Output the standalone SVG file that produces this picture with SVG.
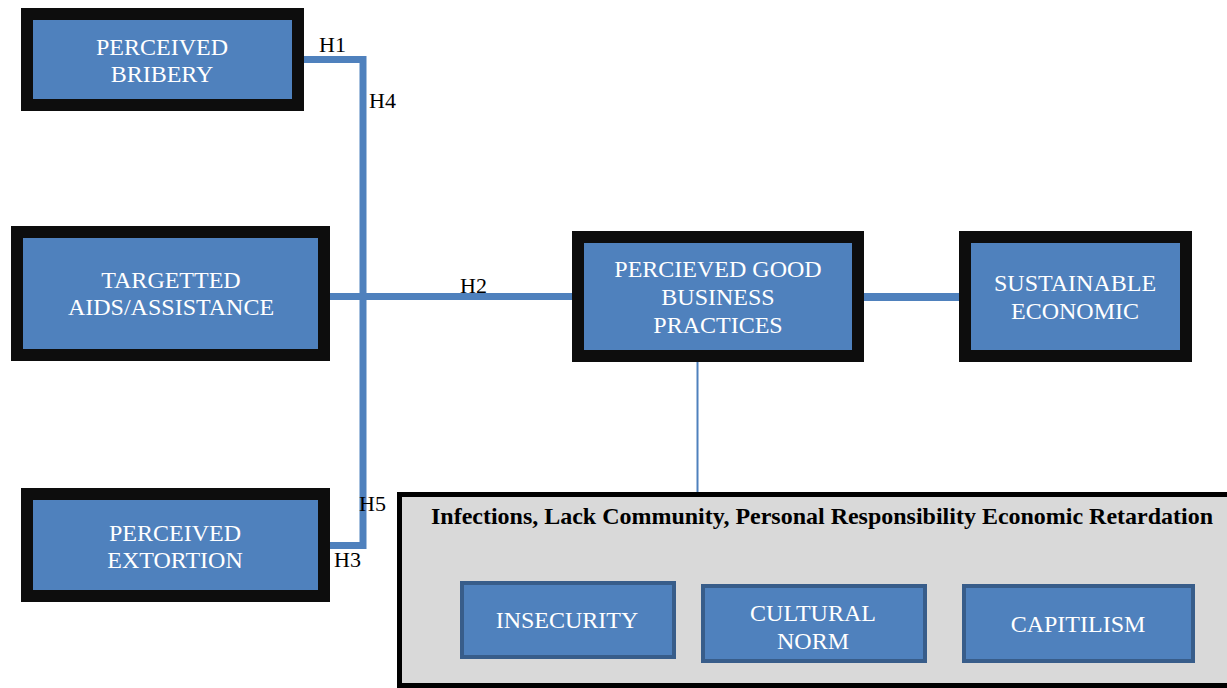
<svg xmlns="http://www.w3.org/2000/svg" width="1227" height="688" viewBox="0 0 1227 688">
<style>
.box{fill:#4F81BD;stroke:#0D0D0D;stroke-width:12}
.sub{fill:#4F81BD;stroke:#385D8A;stroke-width:4}
.t{font-family:"Liberation Serif","Times New Roman",serif;font-size:24px;fill:#FFFFFF;text-anchor:middle}
.lab{font-family:"Liberation Serif","Times New Roman",serif;font-size:22px;fill:#000000}
.title{font-family:"Liberation Serif","Times New Roman",serif;font-size:23px;font-weight:bold;fill:#000000;text-anchor:middle}
.c{fill:none;stroke:#4F81BD;stroke-width:7}
</style>
<rect width="1227" height="688" fill="#FFFFFF"/>
<g id="connectors">
<polyline class="c" points="298,59.5 363,59.5 363,545.5 325,545.5"/>
<line class="c" x1="330" y1="296.5" x2="572" y2="296.5"/>
<line class="c" x1="858" y1="297" x2="964" y2="297" style="stroke-width:8"/>
<line x1="697.5" y1="362" x2="697.5" y2="494" stroke="#4F81BD" stroke-width="2"/>
<text class="lab" x="319" y="52">H1</text>
<text class="lab" x="369" y="108">H4</text>
<text class="lab" x="460" y="293">H2</text>
<text class="lab" x="359" y="511">H5</text>
<text class="lab" x="334" y="567">H3</text>
</g>
<g id="bribery">
<rect class="box" x="27" y="14" width="271" height="91"/>
<text class="t" x="162" y="55">PERCEIVED</text>
<text class="t" x="162" y="82">BRIBERY</text>
</g>
<g id="targetted">
<rect class="box" x="17" y="232" width="307" height="123"/>
<text class="t" x="171" y="288">TARGETTED</text>
<text class="t" x="171" y="315">AIDS/ASSISTANCE</text>
</g>
<g id="extortion">
<rect class="box" x="27" y="494" width="297" height="102"/>
<text class="t" x="175" y="541">PERCEIVED</text>
<text class="t" x="175" y="568">EXTORTION</text>
</g>
<g id="good-practices">
<rect class="box" x="578" y="237" width="280" height="119"/>
<text class="t" x="718" y="277">PERCIEVED GOOD</text>
<text class="t" x="718" y="305">BUSINESS</text>
<text class="t" x="718" y="333">PRACTICES</text>
</g>
<g id="sustainable">
<rect class="box" x="965" y="237" width="221" height="119"/>
<text class="t" x="1075" y="291">SUSTAINABLE</text>
<text class="t" x="1075" y="319">ECONOMIC</text>
</g>
<g id="factors">
<rect x="399.5" y="494.5" width="835" height="191" fill="#D9D9D9" stroke="#000000" stroke-width="5"/>
<text class="title" x="822" y="524" textLength="782" lengthAdjust="spacingAndGlyphs">Infections, Lack Community, Personal Responsibility Economic Retardation</text>
</g>
<g id="insecurity">
<rect class="sub" x="462" y="583" width="212" height="74"/>
<text class="t" x="567" y="628">INSECURITY</text>
</g>
<g id="cultural-norm">
<rect class="sub" x="703" y="586" width="222" height="75"/>
<text class="t" x="813" y="621">CULTURAL</text>
<text class="t" x="813" y="649">NORM</text>
</g>
<g id="capitilism">
<rect class="sub" x="964" y="586" width="229" height="75"/>
<text class="t" x="1078" y="632">CAPITILISM</text>
</g>
</svg>
